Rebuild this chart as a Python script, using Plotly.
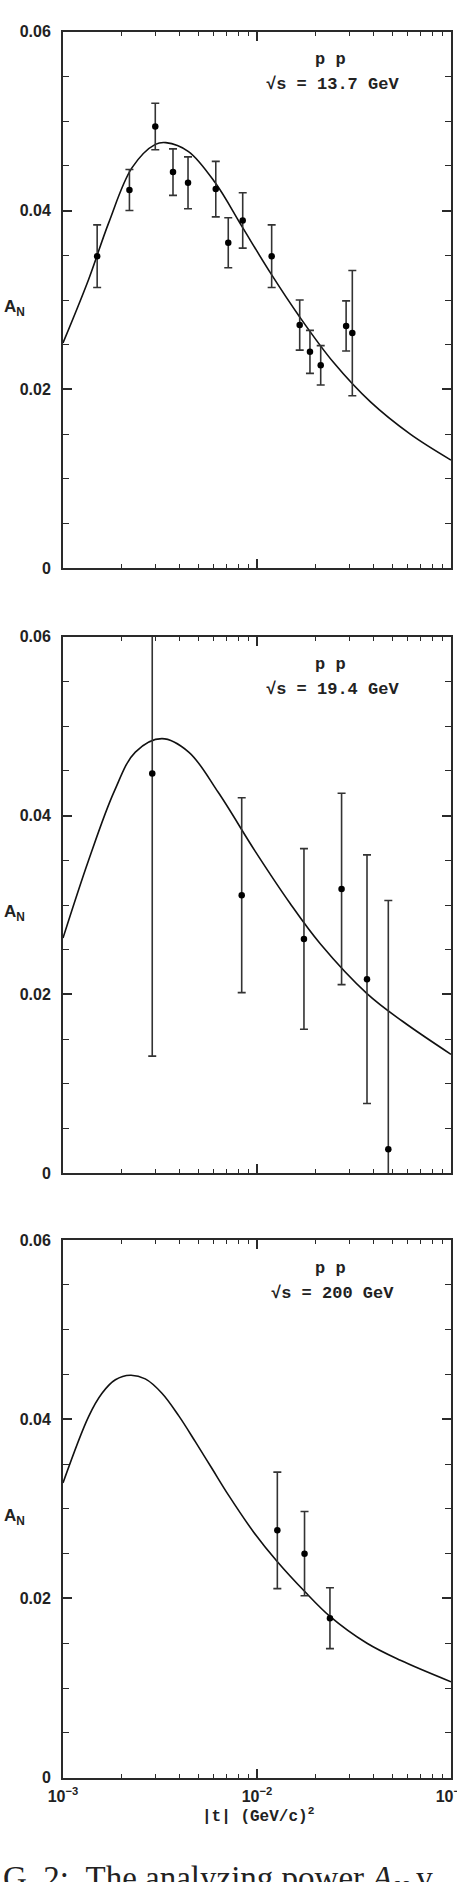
import plotly.graph_objects as go

# ---------------- data ----------------
# panel 1: sqrt(s) = 13.7 GeV
t1 = [0.00150, 0.00220, 0.00299, 0.00369, 0.00441, 0.00613, 0.00711,
      0.00844, 0.0119, 0.0166, 0.01875, 0.0213, 0.0288, 0.0310]
a1 = [0.0349, 0.0423, 0.0494, 0.0443, 0.0431, 0.0424, 0.0364,
      0.0389, 0.0349, 0.0272, 0.0242, 0.0227, 0.0271, 0.0263]
e1 = [0.0035, 0.0023, 0.0026, 0.0026, 0.0029, 0.0031, 0.0028,
      0.0031, 0.0035, 0.0028, 0.0024, 0.0022, 0.0028, 0.0070]
curve1_t = [0.001000, 0.001355, 0.001718, 0.002270, 0.002992, 0.003388, 0.004436,
            0.006095, 0.008375, 0.01175, 0.01660, 0.02483, 0.03846, 0.06166, 0.1]
curve1_a = [0.0252, 0.0323, 0.0386, 0.0448, 0.0474, 0.0476, 0.0466,
            0.0431, 0.0382, 0.0330, 0.0281, 0.0230, 0.0186, 0.0150, 0.0121]

# panel 2: sqrt(s) = 19.4 GeV
t2 = [0.002884, 0.008339, 0.01746, 0.02729, 0.0369, 0.04752]
a2 = [0.0447, 0.0311, 0.0262, 0.0318, 0.0217, 0.0027]
e2 = [0.0316, 0.0109, 0.0101, 0.0107, 0.0139, 0.0278]
curve2_t = [0.001000, 0.001355, 0.001837, 0.002360, 0.003236, 0.004446, 0.006310,
            0.009795, 0.01479, 0.02113, 0.03690, 0.05623, 0.1]
curve2_a = [0.0263, 0.0350, 0.0427, 0.0471, 0.0486, 0.0471, 0.0426,
            0.0360, 0.0302, 0.0257, 0.0201, 0.0170, 0.0133]

# panel 3: sqrt(s) = 200 GeV
t3 = [0.01273, 0.01758, 0.02377]
a3 = [0.0276, 0.0250, 0.0178]
e3 = [0.0065, 0.0047, 0.0034]
curve3_t = [0.001000, 0.001355, 0.001589, 0.001862, 0.002223, 0.002655, 0.003236,
            0.003945, 0.004808, 0.005861, 0.007145, 0.009616, 0.01274, 0.01758,
            0.02377, 0.03690, 0.05483, 0.1]
curve3_a = [0.0329, 0.0403, 0.0429, 0.0444, 0.0449, 0.0445, 0.0429,
            0.0404, 0.0375, 0.0345, 0.0315, 0.0274, 0.0241, 0.0208,
            0.0180, 0.0150, 0.0131, 0.0107]

energies = ["13.7", "19.4", "200"]
y_tickvals = [0, 0.02, 0.04, 0.06]
y_ticktext = ["0", "0.02", "0.04", "0.06"]
x_tickvals = [0.001, 0.01, 0.1]
x_ticktext = ["10<sup>\u22123</sup>", "10<sup>\u22122</sup>", "10<sup>\u22121</sup>"]
x_minor = [2e-3, 3e-3, 4e-3, 5e-3, 6e-3, 7e-3, 8e-3, 9e-3,
           2e-2, 3e-2, 4e-2, 5e-2, 6e-2, 7e-2, 8e-2, 9e-2]

# ---------------- figure ----------------
W, H = 457, 1882
ML, MR = 63, 6
PW = W - ML - MR
panel_px = [(31.7, 568.3), (636.7, 1173.3), (1240.0, 1777.7)]

def fy(px):
    return 1 - px / H

def fx(px):
    return (px - ML) / PW

LINE = "#2a2a2a"
SANS = "Liberation Sans, Arial, sans-serif"
MONO = "Liberation Mono, Courier New, monospace"
fig = go.Figure()

panels = [(t1, a1, e1, curve1_t, curve1_a),
          (t2, a2, e2, curve2_t, curve2_a),
          (t3, a3, e3, curve3_t, curve3_a)]

for i, (tt, aa, ee, ct, ca) in enumerate(panels):
    n = "" if i == 0 else str(i + 1)
    fig.add_trace(go.Scatter(
        x=ct, y=ca, mode="lines",
        line=dict(color="#111", width=1.6, shape="spline", smoothing=1.0),
        xaxis="x" + n, yaxis="y" + n, hoverinfo="skip"))
    fig.add_trace(go.Scatter(
        x=tt, y=aa, mode="markers",
        marker=dict(color="#000", size=6.5),
        error_y=dict(type="data", array=ee, visible=True, color="#333", thickness=1.6, width=4),
        xaxis="x" + n, yaxis="y" + n))

    top, bot = panel_px[i]
    axis_common = dict(showgrid=False, zeroline=False, showline=True, linecolor=LINE,
                       linewidth=2, mirror="ticks", ticks="inside", tickcolor=LINE,
                       tickwidth=1.5, automargin=False)
    xa = dict(axis_common, type="log", range=[-3, -1], domain=[0, 1],
              anchor="y" + n, tickvals=x_tickvals, ticktext=x_ticktext, ticklen=9,
              minor=dict(tickvals=x_minor, ticks="inside", ticklen=4, tickcolor=LINE, tickwidth=1.3),
              showticklabels=(i == 2), ticklabeloverflow="allow",
              tickfont=dict(family=SANS, size=16, color="#222", weight="bold"),
              ticklabelstandoff=3)
    ya = dict(axis_common, range=[0, 0.06], domain=[fy(bot), fy(top)],
              anchor="x" + n, tickvals=y_tickvals, ticktext=y_ticktext, ticklen=9,
              minor=dict(dtick=0.005, ticks="inside", ticklen=6, tickcolor=LINE, tickwidth=1.3),
              tickfont=dict(family=SANS, size=16, color="#222", weight="bold"),
              ticklabelstandoff=7)
    fig.update_layout(**{"xaxis" + n: xa, "yaxis" + n: ya})

    mono = dict(family=MONO, size=17, color="#222", weight="bold")
    fig.add_annotation(x=fx(330), y=fy(top + 28), xref="paper", yref="paper",
                       text="p p", showarrow=False, font=mono,
                       xanchor="center", yanchor="middle")
    fig.add_annotation(x=fx(332), y=fy(top + 53), xref="paper", yref="paper",
                       text="\u221as = " + energies[i] + " GeV", showarrow=False, font=mono,
                       xanchor="center", yanchor="middle")
    fig.add_annotation(x=fx(2), y=0.0291, xref="paper", yref="y" + n,
                       text="A<sub>N</sub>", showarrow=False,
                       font=dict(family=SANS, size=17, color="#222", weight="bold"),
                       xanchor="left", yanchor="middle")

# x axis title under the bottom panel
fig.add_annotation(x=fx(258), y=fy(1815), xref="paper", yref="paper",
                   text="|t| (GeV/c)<sup>2</sup>", showarrow=False,
                   font=dict(family=MONO, size=16, color="#222", weight="bold"),
                   xanchor="center", yanchor="middle")

# truncated caption line at the very bottom of the page
fig.add_annotation(x=fx(1), y=fy(1880), xref="paper", yref="paper",
                   text="G.\u00a02:\u00a0\u00a0The analyzing power <i>A<sub>N</sub></i> v",
                   showarrow=False,
                   font=dict(family="Liberation Serif, Times New Roman, serif", size=33, color="#222"),
                   xanchor="left", yanchor="middle")

fig.update_layout(width=W, height=H, margin=dict(l=ML, r=MR, t=0, b=0, autoexpand=False),
                  paper_bgcolor="white", plot_bgcolor="white", showlegend=False)

fig.write_html("out.html")
